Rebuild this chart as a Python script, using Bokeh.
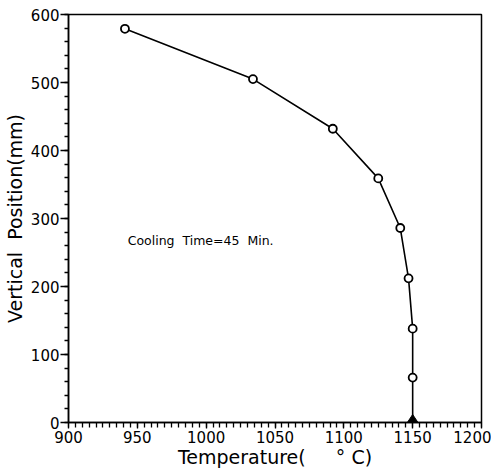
from bokeh.plotting import figure
from bokeh.models import Range1d, FixedTicker, Label
from bokeh.embed import file_html
from bokeh.resources import INLINE

# Data
temperature = [941, 1034, 1092, 1125, 1141, 1147, 1150, 1150]
position = [579, 505, 432, 359, 286, 212, 138, 66]
base_temperature = [1150]
base_position = [0]
x_ticks = [900, 950, 1000, 1050, 1100, 1150, 1200]
y_ticks = [0, 100, 200, 300, 400, 500, 600]

FONT = "DejaVu Sans"
NB = "\u00a0"

p = figure(width=490, height=462, output_backend="svg", toolbar_location=None,
           x_range=Range1d(900, 1200), y_range=Range1d(0, 600),
           min_border_left=68, min_border_right=10, min_border_top=14, min_border_bottom=40)
p.frame_width = 413
p.frame_height = 408

p.grid.visible = False
p.outline_line_color = "black"
p.outline_line_width = 1.5

line_x = temperature + base_temperature
line_y = position + base_position
p.line(line_x, line_y, line_color="black", line_width=1.6)
p.scatter(temperature, position, marker="circle", size=8, fill_color="white",
          line_color="black", line_width=1.8)
p.scatter(base_temperature, base_position, marker="diamond", size=16,
          fill_color="black", line_color="black")

# filled diamond at the base, drawn as annotation so its lower half is not clipped
for bx, by in zip(base_temperature, base_position):
    p.add_layout(Label(x=bx, y=by, text="\u25c6", text_align="center",
                       text_baseline="middle", text_font_size="15px",
                       text_color="black", text_font=FONT, y_offset=0))

for ax in (p.xaxis[0], p.yaxis[0]):
    ax.axis_line_color = "black"
    ax.axis_line_width = 1.5
    ax.major_tick_line_color = "black"
    ax.minor_tick_line_color = "black"
    ax.major_tick_line_width = 1.3
    ax.minor_tick_line_width = 1.3
    ax.major_tick_in = 0
    ax.minor_tick_in = 0
    ax.major_label_text_font = FONT
    ax.major_label_text_font_size = "15px"
    ax.major_label_text_color = "black"
    ax.axis_label_text_font = FONT
    ax.axis_label_text_font_style = "normal"
    ax.axis_label_text_color = "black"

p.xaxis.axis_label_text_font_size = "19px"
p.yaxis.axis_label_text_font_size = "19px"
p.xaxis.ticker = FixedTicker(ticks=x_ticks, minor_ticks=list(range(900, 1201, 5)))
p.yaxis.ticker = FixedTicker(ticks=y_ticks, minor_ticks=list(range(0, 601, 20)))
p.xaxis.major_tick_out = 6
p.xaxis.minor_tick_out = 5
p.yaxis.major_tick_out = 8
p.yaxis.minor_tick_out = 4
p.xaxis.major_label_standoff = 2
p.yaxis.major_label_standoff = 1
p.xaxis.axis_label = "Temperature(" + NB * 5 + "\u00b0" + NB + "C)"
p.yaxis.axis_label = "Vertical" + NB * 2 + "Position(mm)"
p.xaxis.axis_label_standoff = 0
p.yaxis.axis_label_standoff = 2

p.add_layout(Label(x=943, y=268, text="Cooling" + NB * 2 + "Time=45" + NB * 2 + "Min.",
                   text_font=FONT, text_font_size="12.5px", text_color="black",
                   text_baseline="middle"))

open("out.html", "w").write(file_html(p, INLINE))
